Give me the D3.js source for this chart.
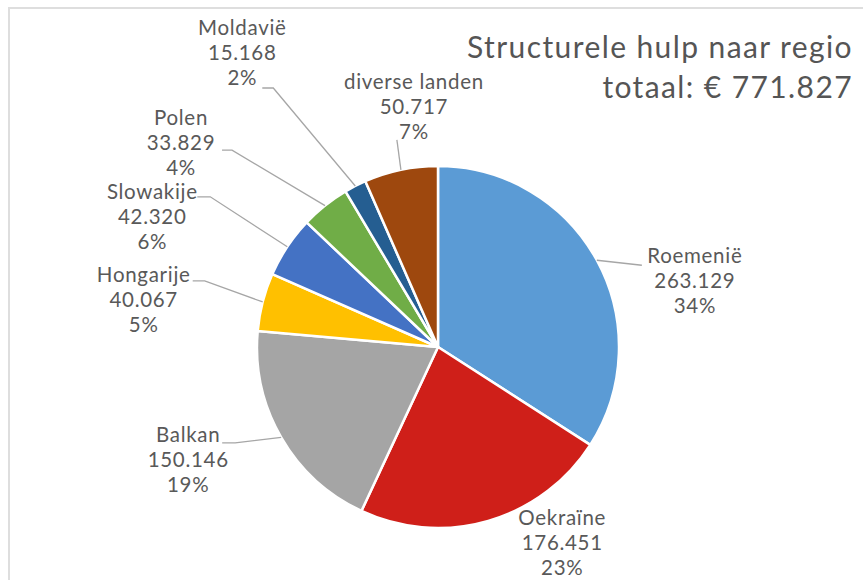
<!DOCTYPE html>
<html>
<head>
<meta charset="utf-8">
<script src="https://cdn.jsdelivr.net/npm/d3@7/dist/d3.min.js"></script>
<style>
  html, body { margin: 0; padding: 0; background: #fff; }
  svg { display: block; }
  text { font-family: Lato, "Open Sans", sans-serif; }
</style>
</head>
<body>
<svg id="chart" width="863" height="580"></svg>
<script>
// ---- data ----
const categories = ["Roemenië", "Oekraïne", "Balkan", "Hongarije", "Slowakije", "Polen", "Moldavië", "diverse landen"];
const values = [263.129, 176.451, 150.146, 40.067, 42.320, 33.829, 15.168, 50.717];
const valueLabels = ["263.129", "176.451", "150.146", "40.067", "42.320", "33.829", "15.168", "50.717"];
const percentLabels = ["34%", "23%", "19%", "5%", "6%", "4%", "2%", "7%"];
const titleLines = ["Structurele hulp naar regio", "totaal: € 771.827"];

// ---- styling / layout ----
const colors = ["#5b9bd5", "#cf1f19", "#a5a5a5", "#ffc000", "#4472c4", "#70ad47", "#255e91", "#9e480e"];
// label offsets relative to the slice's outer-edge point at its mid angle
// [labelDx, labelDy(first line), leaderEndDx, leaderEndDy, elbowDx]
const labelLayout = [
  [98, -4, 45, 5, 0],
  [74, -3, null, null, 0],
  [-93, -2.5, -59, 5.5, 13],
  [-119, -27, -70, -21, 12],
  [-135, -55, -90, -50, 13],
  [-144, -87.5, -103, -55.5, 10],
  [-113, -158, -93, -98, 11],
  [13, -88, -4, -30, 0]
];

const W = 863, H = 580;
const cx = 438, cy = 347, R = 181;
const lineH = 25;

const svg = d3.select("#chart");

// frame
svg.append("rect")
  .attr("x", 9).attr("y", 8)
  .attr("width", W + 20).attr("height", H + 20)
  .attr("fill", "none")
  .attr("stroke", "#dedede")
  .attr("stroke-width", 2);

const data = categories.map((c, i) => ({ name: c, value: values[i], i }));
const pie = d3.pie().value(d => d.value).sort(null).startAngle(0).endAngle(2 * Math.PI);
const arcs = pie(data);
const arc = d3.arc().innerRadius(0).outerRadius(R);

const g = svg.append("g").attr("transform", `translate(${cx},${cy})`);

g.selectAll("path.slice")
  .data(arcs)
  .enter().append("path")
  .attr("class", "slice")
  .attr("d", arc)
  .attr("fill", d => colors[d.data.i])
  .attr("stroke", "#fff")
  .attr("stroke-width", 2.5)
  .attr("stroke-linejoin", "round");

// labels
arcs.forEach(d => {
  const i = d.data.i;
  const mid = (d.startAngle + d.endAngle) / 2;
  const px = Math.sin(mid) * R, py = -Math.cos(mid) * R;
  const [ldx, ldy, ex, ey, elbow] = labelLayout[i];

  if (ex !== null) {
    const pts = [[px, py]];
    if (elbow) pts.push([px + ex + elbow, py + ey]);
    pts.push([px + ex, py + ey]);
    g.append("path")
      .attr("d", d3.line()(pts))
      .attr("fill", "none")
      .attr("stroke", "#a6a6a6")
      .attr("stroke-width", 1.3);
  }

  const t = g.append("text")
    .attr("text-anchor", "middle")
    .attr("fill", "#595959")
    .attr("font-size", 20.5)
    .attr("letter-spacing", 0.7);
  [d.data.name, valueLabels[i], percentLabels[i]].forEach((s, k) => {
    t.append("tspan")
      .attr("x", px + ldx)
      .attr("y", py + ldy + k * lineH)
      .attr("dy", "0.35em")
      .text(s);
  });
});

// title
const title = svg.append("text")
  .attr("text-anchor", "end")
  .attr("fill", "#555")
  .attr("font-size", 30)
  .attr("letter-spacing", 1.4);
titleLines.forEach((s, k) => {
  title.append("tspan")
    .attr("x", 853)
    .attr("y", 58 + k * 40)
    .text(s);
});
</script>
</body>
</html>
